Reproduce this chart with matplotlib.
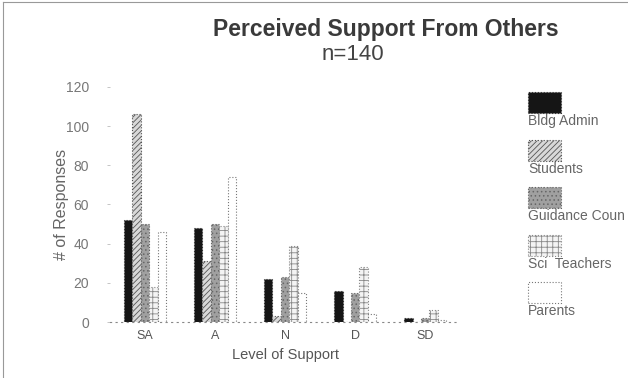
import numpy as np
import matplotlib.pyplot as plt
from matplotlib.patches import Rectangle

plt.rcParams['font.family'] = ['Liberation Sans', 'DejaVu Sans']
plt.rcParams['hatch.linewidth'] = 0.6

levels = ['SA', 'A', 'N', 'D', 'SD']
groups = ['Bldg Admin', 'Students', 'Guidance Coun', 'Sci  Teachers', 'Parents']

bldg_admin = [52, 48, 22, 16, 2]
students = [106, 31, 3, 0, 0]
guidance = [50, 50, 23, 15, 2]
sci_teachers = [18, 49, 39, 28, 6]
parents = [46, 74, 15, 4, 1]
series = [bldg_admin, students, guidance, sci_teachers, parents]

# fill / hatch for each source of support
styles = [
    dict(facecolor='#151515', edgecolor='#333333', hatch=None),
    dict(facecolor='#d8d8d8', edgecolor='#555555', hatch='//////'),
    dict(facecolor='#a0a0a0', edgecolor='#666666', hatch='....'),
    dict(facecolor='#f4f4f4', edgecolor='#888888', hatch='+++'),
    dict(facecolor='white', edgecolor='#777777', hatch=None),
]

fig = plt.figure(figsize=(6.28, 3.78), dpi=100, facecolor='white')
ax = fig.add_axes([0.175, 0.148, 0.558, 0.622])

x = np.arange(len(levels))
w = 0.12
for i, (vals, st) in enumerate(zip(series, styles)):
    ax.bar(x + (i - 2) * w, vals, width=w, linewidth=0.8, linestyle=':', **st)

ax.set_xlim(-0.5, len(levels) - 0.5)
ax.set_ylim(0, 120)
ax.set_yticks(range(0, 121, 20))
ax.set_xticks(x, levels)
ax.tick_params(axis='y', length=2, width=0.6, color='#bbbbbb', pad=13,
               labelsize=10, labelcolor='#777777')
ax.tick_params(axis='x', length=0, pad=6, labelsize=9, labelcolor='#555555')
for s in ['top', 'right']:
    ax.spines[s].set_visible(False)
ax.spines['left'].set_visible(False)
ax.spines['bottom'].set_color('#888888')
ax.spines['bottom'].set_linestyle((0, (1, 4)))
ax.spines['bottom'].set_linewidth(0.8)

ax.set_ylabel('# of Responses', fontsize=11.5, color='#666666')
ax.yaxis.set_label_coords(-0.118, 0.5)
ax.set_xlabel('Level of Support', fontsize=10.5, color='#555555', labelpad=4)

fig.text(0.615, 0.905, 'Perceived Support From Others', ha='center',
         fontsize=16.5, fontweight='bold', color='#3a3a3a')
fig.text(0.562, 0.842, 'n=140', ha='center', fontsize=16, color='#444444')

# legend: swatch with its name underneath
for i, (name, st) in enumerate(zip(groups, styles)):
    y0 = 1 - (113 + i * 47.5) / 378
    fig.add_artist(Rectangle((0.841, y0), 33 / 628, 21 / 378,
                             transform=fig.transFigure, linewidth=0.8,
                             linestyle=':', **st))
    fig.text(0.841, y0 - 0.003, name, ha='left', va='top',
             fontsize=10, color='#666666')

# frame lines along the left and top edges
fig.add_artist(plt.Line2D([0.005, 0.005], [0, 0.995], transform=fig.transFigure,
                          color='#999999', linewidth=0.8))
fig.add_artist(plt.Line2D([0.005, 1], [0.995, 0.995], transform=fig.transFigure,
                          color='#999999', linewidth=0.8))

fig.savefig('out.png', dpi=100)
